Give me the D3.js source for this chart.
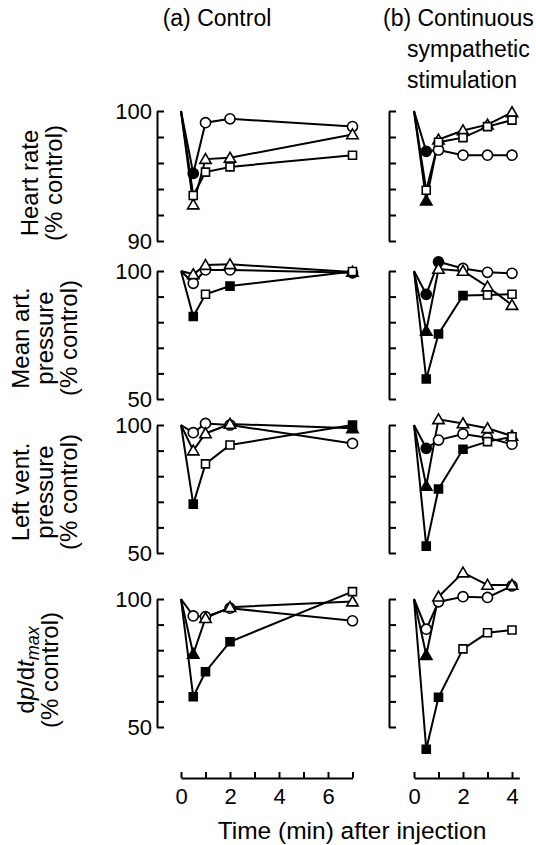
<!DOCTYPE html>
<html><head><meta charset="utf-8">
<script src="https://cdn.jsdelivr.net/npm/d3@7"></script>
<style>
html,body{margin:0;padding:0;background:#fff;}
svg text{font-family:"Liberation Sans",Arial,Helvetica,sans-serif;fill:#000;}
</style>
</head><body>
<svg id="chart" width="536" height="845"></svg>
<script>
// ---------- data ----------
const timesA = [0, 0.5, 1, 2, 7];
const timesB = [0, 0.5, 1, 2, 3, 4];
const panelTitles = ["(a) Control", "(b) Continuous", "sympathetic", "stimulation"];
const xTickValuesA = [0,1,2,3,4,5,6,7];
const xTickValuesB = [0,1,2,3,4];
const xLabel = "Time (min) after injection";

// Heart rate (% control)
const hrA_circle   = [100, 95.2, 99.1, 99.4, 98.8];
const hrA_triangle = [100, 92.8, 96.3, 96.4, 98.2];
const hrA_square   = [100, 93.5, 95.3, 95.7, 96.6];
const hrB_circle   = [100, 96.9, 97.0, 96.6, 96.6, 96.6];
const hrB_triangle = [100, 93.1, 97.8, 98.5, 98.95, 99.9];
const hrB_square   = [100, 93.9, 97.6, 97.95, 98.8, 99.3];
// Mean art. pressure (% control)
const mapA_circle   = [100, 95.2, 100.4, 100.4, 99.3];
const mapA_triangle = [100, 98.7, 102.3, 102.6, 99.6];
const mapA_square   = [100, 82.2, 90.9, 94.1, 99.8];
const mapB_circle   = [100, 90.9, 103.6, 101.0, 99.5, 99.1];
const mapB_triangle = [100, 76.6, 100.8, 100.0, 93.9, 86.7];
const mapB_square   = [100, 57.8, 75.4, 90.4, 90.6, 90.9];
// Left vent. pressure (% control)
const lvpA_circle   = [100, 97.0, 100.6, 100.0, 92.8];
const lvpA_triangle = [100, 90.0, 96.7, 100.4, 98.7];
const lvpA_square   = [100, 69.1, 84.8, 92.2, 100.0];
const lvpB_circle   = [100, 90.9, 94.1, 96.5, 95.0, 92.5];
const lvpB_triangle = [100, 76.2, 102.2, 100.6, 98.7, 95.7];
const lvpB_square   = [100, 52.7, 75.0, 90.5, 93.5, 95.4];
// dp/dt max (% control)
const dpA_circle   = [100, 93.4, 93.1, 96.4, 91.5];
const dpA_triangle = [100, 78.5, 92.5, 96.8, 99.0];
const dpA_square   = [100, 61.8, 71.6, 83.3, 102.9];
const dpB_circle   = [100, 88.2, 98.9, 100.9, 100.6, 105.1];
const dpB_triangle = [100, 78.1, 100.9, 110.3, 105.5, 105.5];
const dpB_square   = [100, 41.3, 61.6, 80.5, 86.8, 87.9];

// filled (1) / open (0) marker at each time point
const hrA_circleFill   = [0,1,0,0,0];
const hrA_triangleFill = [0,0,0,0,0];
const hrA_squareFill   = [0,0,0,0,0];
const hrB_circleFill   = [0,1,0,0,0,0];
const hrB_triangleFill = [0,1,0,0,0,0];
const hrB_squareFill   = [0,0,0,0,0,0];
const mapA_circleFill   = [0,0,0,0,0];
const mapA_triangleFill = [0,0,0,0,0];
const mapA_squareFill   = [0,1,0,1,0];
const mapB_circleFill   = [0,1,1,0,0,0];
const mapB_triangleFill = [0,1,0,0,0,0];
const mapB_squareFill   = [0,1,1,1,0,0];
const lvpA_circleFill   = [0,0,0,0,0];
const lvpA_triangleFill = [0,0,0,0,1];
const lvpA_squareFill   = [0,1,0,0,1];
const lvpB_circleFill   = [0,1,0,0,0,0];
const lvpB_triangleFill = [0,1,0,0,0,0];
const lvpB_squareFill   = [0,1,1,1,0,0];
const dpA_circleFill   = [0,0,0,0,0];
const dpA_triangleFill = [0,1,0,0,0];
const dpA_squareFill   = [0,1,1,1,0];
const dpB_circleFill   = [0,0,0,0,0,0];
const dpB_triangleFill = [0,1,0,0,0,0];
const dpB_squareFill   = [0,1,1,0,0,0];

const rowLabels = [
  ["Heart rate", "(% control)"],
  ["Mean art.", "pressure", "(% control)"],
  ["Left vent.", "pressure", "(% control)"],
  ["DPDT", "(% control)"]
];
const yDomains = [[90,100],[50,100],[50,100],[50,100]];
const yTickStep = [2,10,10,10];

// ---------- layout ----------
const svg = d3.select("#chart");
const TICKFONT = 22;
const LABELFONT = 24;
const rowsY = [[241,111],[399,271],[553,425],[727,599]]; // pixel of domain min, max
const labelCenters = [183, 338, 492, 670];
const labelBaselines = [[38,62],[29,53,77],[29,53,77],[34,58]];
const xA = d3.scaleLinear().domain([0,7]).range([181, 352.5]);
const xB = d3.scaleLinear().domain([0,4.3]).range([414, 414 + 24.5*4.3]);
const yAxisXA = 157, yAxisXB = 389;
const xAxisY = 778;

const rows = [
  {A:[[hrA_circle,hrA_circleFill,"c"],[hrA_triangle,hrA_triangleFill,"t"],[hrA_square,hrA_squareFill,"s"]],
   B:[[hrB_circle,hrB_circleFill,"c"],[hrB_triangle,hrB_triangleFill,"t"],[hrB_square,hrB_squareFill,"s"]]},
  {A:[[mapA_circle,mapA_circleFill,"c"],[mapA_triangle,mapA_triangleFill,"t"],[mapA_square,mapA_squareFill,"s"]],
   B:[[mapB_circle,mapB_circleFill,"c"],[mapB_triangle,mapB_triangleFill,"t"],[mapB_square,mapB_squareFill,"s"]]},
  {A:[[lvpA_circle,lvpA_circleFill,"c"],[lvpA_triangle,lvpA_triangleFill,"t"],[lvpA_square,lvpA_squareFill,"s"]],
   B:[[lvpB_circle,lvpB_circleFill,"c"],[lvpB_triangle,lvpB_triangleFill,"t"],[lvpB_square,lvpB_squareFill,"s"]]},
  {A:[[dpA_circle,dpA_circleFill,"c"],[dpA_triangle,dpA_triangleFill,"t"],[dpA_square,dpA_squareFill,"s"]],
   B:[[dpB_circle,dpB_circleFill,"c"],[dpB_triangle,dpB_triangleFill,"t"],[dpB_square,dpB_squareFill,"s"]]}
];

function symbolFor(k){
  if(k==="c") return d3.symbol().type(d3.symbolCircle).size(80);
  if(k==="t") return d3.symbol().type(d3.symbolTriangle).size(56);
  return d3.symbol().type(d3.symbolSquare).size(64);
}

function styleAxis(g, fs){
  g.selectAll("path.domain").attr("stroke","#000").attr("stroke-width",2);
  g.selectAll(".tick line").attr("stroke","#000").attr("stroke-width",2);
  g.selectAll("text").attr("font-size",fs).attr("fill","#000")
   .style("font-family","'Liberation Sans',Arial,Helvetica,sans-serif");
}

rows.forEach((row, r) => {
  const y = d3.scaleLinear().domain(yDomains[r]).range(rowsY[r]);
  const ticks = d3.range(yDomains[r][0], yDomains[r][1] + 0.001, yTickStep[r]);
  const gA = svg.append("g").attr("transform",`translate(${yAxisXA},0)`)
    .call(d3.axisLeft(y).tickValues(ticks).tickSize(-7).tickSizeOuter(0).tickPadding(5)
      .tickFormat(d => (d===yDomains[r][0]||d===yDomains[r][1]) ? d : ""));
  styleAxis(gA, TICKFONT);
  const gB = svg.append("g").attr("transform",`translate(${yAxisXB},0)`)
    .call(d3.axisLeft(y).tickValues(ticks).tickSize(-7).tickSizeOuter(0).tickFormat(""));
  styleAxis(gB, TICKFONT);

  [["A",xA,timesA],["B",xB,timesB]].forEach(([key,x,times]) => {
    const g = svg.append("g");
    const series = row[key];
    const line = d3.line().x((d,i)=>x(times[i])).y(d=>y(d));
    series.forEach(([vals]) => {
      g.append("path").datum(vals).attr("d",line)
        .attr("fill","none").attr("stroke","#000").attr("stroke-width",2).attr("stroke-linejoin","miter");
    });
    series.forEach(([vals,fills,k]) => {
      const sym = symbolFor(k);
      vals.forEach((v,i) => {
        if(i===0) return;
        g.append("path").attr("d",sym())
          .attr("transform",`translate(${x(times[i])},${y(v) + (k==="t"?1:0)})`)
          .attr("fill", fills[i] ? "#000" : "#fff")
          .attr("stroke","#000").attr("stroke-width",1.6);
      });
    });
  });

  // row label
  const lines = rowLabels[r];
  lines.forEach((txt, j) => {
    const t = svg.append("text")
      .attr("transform", `translate(${labelBaselines[r][j]},${labelCenters[r]}) rotate(-90)`)
      .attr("text-anchor","middle").attr("font-size",LABELFONT);
    if(txt === "DPDT"){
      t.append("tspan").text("d");
      t.append("tspan").attr("font-style","italic").text("p");
      t.append("tspan").text("/d");
      t.append("tspan").attr("font-style","italic").text("t");
      t.append("tspan").attr("font-style","italic").attr("font-size",18).attr("dy",5).text("max");
    } else {
      t.text(txt);
    }
  });
});

// x axes
const gxA = svg.append("g").attr("transform",`translate(0,${xAxisY})`)
  .call(d3.axisBottom(xA).tickValues(xTickValuesA).tickSize(-6).tickSizeOuter(0).tickPadding(10)
    .tickFormat(d => d%2===0 ? d : ""));
styleAxis(gxA, TICKFONT);
const gxB = svg.append("g").attr("transform",`translate(0,${xAxisY})`)
  .call(d3.axisBottom(xB).tickValues(xTickValuesB).tickSize(-6).tickSizeOuter(0).tickPadding(10)
    .tickFormat(d => d%2===0 ? d : ""));
styleAxis(gxB, TICKFONT);

svg.append("text").attr("x", 352).attr("y", 839).attr("text-anchor","middle")
  .attr("font-size",24.5).text(xLabel);

// titles
svg.append("text").attr("x",217).attr("y",26).attr("text-anchor","middle").attr("font-size",23).text(panelTitles[0]);
svg.append("text").attr("x",383).attr("y",26).attr("font-size",23).text(panelTitles[1]);
svg.append("text").attr("x",407).attr("y",57).attr("font-size",23).text(panelTitles[2]);
svg.append("text").attr("x",407).attr("y",88).attr("font-size",23).text(panelTitles[3]);
</script>
</body></html>
